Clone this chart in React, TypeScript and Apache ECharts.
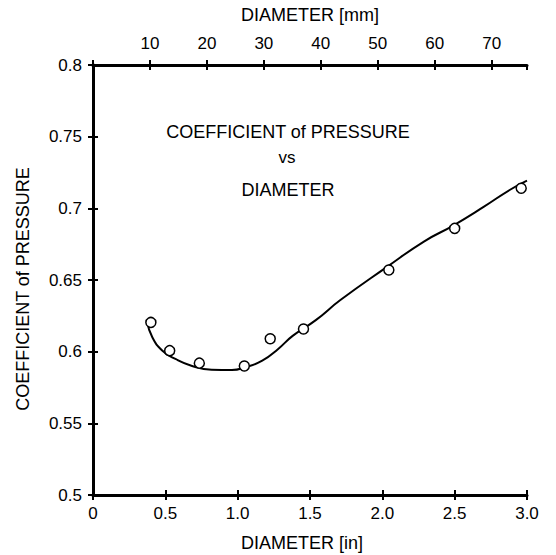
import React, { useEffect, useRef } from "react";
import * as echarts from "echarts";

const xTickLabels = ["0", "0.5", "1.0", "1.5", "2.0", "2.5", "3.0"];
const yTickLabels = ["0.5", "0.55", "0.6", "0.65", "0.7", "0.75", "0.8"];
const mmTickLabels = ["", "10", "20", "30", "40", "50", "60", "70"];

const pointX = [0.4, 0.53, 0.735, 1.046, 1.225, 1.455, 2.045, 2.5, 2.96];
const pointY = [0.6204, 0.6007, 0.592, 0.59, 0.609, 0.6158, 0.657, 0.686, 0.714];

const curveX = [0.373, 0.41, 0.48, 0.57, 0.68, 0.82, 0.96, 1.05, 1.17, 1.28, 1.38, 1.54, 1.71, 2.03, 2.29, 2.49, 2.7, 2.88, 3.0];
const curveY = [0.6215, 0.61, 0.6007, 0.5949, 0.5902, 0.5874, 0.5872, 0.589, 0.5937, 0.6019, 0.611, 0.622, 0.636, 0.659, 0.677, 0.688, 0.701, 0.7128, 0.7193];

const FONT = "'Liberation Sans', Arial, sans-serif";

export default function App() {
  const ref = useRef<HTMLDivElement>(null);
  useEffect(() => {
    document.body.style.margin = "0";
    const chart = echarts.init(ref.current!, null, { renderer: "svg" });
    const lineStyle = { color: "#000", width: 3 };
    const tickStyle = { color: "#000", width: 2 };
    const label = { color: "#000", fontSize: 17, fontFamily: FONT };
    chart.setOption({
      animation: false,
      backgroundColor: "#fff",
      grid: { left: 93, right: 29, top: 65, bottom: 60 },
      xAxis: [
        {
          type: "value", position: "bottom", min: 0, max: 3, interval: 0.5,
          axisLine: { lineStyle }, splitLine: { show: false },
          axisTick: { inside: false, length: 5, lineStyle: tickStyle },
          axisLabel: { ...label, margin: 10, formatter: (v: number) => xTickLabels[Math.round(v / 0.5)] },
        },
        {
          type: "value", position: "top", min: 0, max: 76.2, interval: 10,
          axisLine: { lineStyle }, splitLine: { show: false },
          axisTick: { inside: false, length: 5, lineStyle: tickStyle },
          axisLabel: { ...label, margin: 13, showMaxLabel: false, formatter: (v: number) => mmTickLabels[Math.round(v / 10)] ?? "" },
        },
        {
          type: "value", position: "bottom", min: 0, max: 3, interval: 0.5,
          axisLine: { show: false }, splitLine: { show: false }, axisLabel: { show: false },
          axisTick: { inside: true, length: 5, lineStyle: tickStyle },
        },
        {
          type: "value", position: "top", min: 0, max: 76.2, interval: 10,
          axisLine: { show: false }, splitLine: { show: false }, axisLabel: { show: false },
          axisTick: { inside: true, length: 5, lineStyle: tickStyle },
        },
      ],
      yAxis: [
        {
          type: "value", position: "left", min: 0.5, max: 0.8, interval: 0.05,
          axisLine: { lineStyle }, splitLine: { show: false },
          axisTick: { inside: false, length: 5, lineStyle: tickStyle },
          axisLabel: { ...label, margin: 11, formatter: (v: number) => yTickLabels[Math.round((v - 0.5) / 0.05)] },
        },
        {
          type: "value", position: "right", min: 0.5, max: 0.8, interval: 0.05,
          axisLine: { lineStyle }, splitLine: { show: false },
          axisTick: { show: false }, axisLabel: { show: false },
        },
        {
          type: "value", position: "left", min: 0.5, max: 0.8, interval: 0.05,
          axisLine: { show: false }, splitLine: { show: false }, axisLabel: { show: false },
          axisTick: { inside: true, length: 5, lineStyle: tickStyle },
        },
      ],
      graphic: [
        { type: "text", x: 310, y: 15, style: { text: "DIAMETER [mm]", font: `18px ${FONT}`, fill: "#000", align: "center", verticalAlign: "middle" } },
        { type: "text", x: 302, y: 543, style: { text: "DIAMETER [in]", font: `18px ${FONT}`, fill: "#000", align: "center", verticalAlign: "middle" } },
        { type: "text", x: 23, y: 289, rotation: Math.PI / 2, style: { text: "COEFFICIENT of PRESSURE", font: `18px ${FONT}`, fill: "#000", align: "center", verticalAlign: "middle" } },
        { type: "text", x: 288, y: 132, style: { text: "COEFFICIENT of PRESSURE", font: `18px ${FONT}`, fill: "#000", align: "center", verticalAlign: "middle" } },
        { type: "text", x: 287, y: 157, style: { text: "vs", font: `17px ${FONT}`, fill: "#000", align: "center", verticalAlign: "middle" } },
        { type: "text", x: 288, y: 190, style: { text: "DIAMETER", font: `18px ${FONT}`, fill: "#000", align: "center", verticalAlign: "middle" } },
      ],
      series: [
        {
          type: "line", xAxisIndex: 0, yAxisIndex: 0, smooth: 0.5, showSymbol: false,
          lineStyle: { color: "#000", width: 2 },
          data: curveX.map((x, i) => [x, curveY[i]]),
        },
        {
          type: "scatter", xAxisIndex: 0, yAxisIndex: 0, symbol: "circle", symbolSize: 10,
          itemStyle: { color: "#fff", borderColor: "#000", borderWidth: 1.5, opacity: 1 },
          data: pointX.map((x, i) => [x, pointY[i]]),
          z: 3,
        },
      ],
    });
    return () => chart.dispose();
  }, []);
  return <div ref={ref} style={{ width: 556, height: 555 }} />;
}
